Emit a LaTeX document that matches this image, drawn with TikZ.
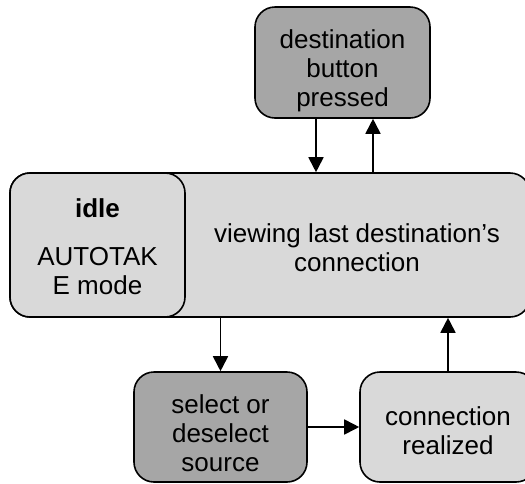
\documentclass[tikz,border=0pt]{standalone}
\usepackage{fontspec}
\setmainfont{Liberation Sans}
\usetikzlibrary{arrows.meta,shapes}
\definecolor{darkfill}{HTML}{A6A6A6}
\definecolor{lightfill}{HTML}{D9D9D9}
\tikzset{box/.style={draw,line width=1.6pt,rounded corners=20pt,align=center,
    font=\fontsize{26}{29}\selectfont,inner sep=0pt},
  txt/.style={align=center,font=\fontsize{26}{29}\selectfont,inner sep=0pt},
  arr/.style={line width=1.8pt,-{Triangle[length=15pt,width=15pt]}}}
\newcommand{\lift}[1]{\rule{0pt}{#1pt}}

\begin{document}
\begin{tikzpicture}[x=1pt,y=-1pt]
  \clip (0,0) rectangle (525,483);
  \node[box,fill=darkfill,minimum width=175pt,minimum height=111pt] (0) at (342.5,62.5) {\lift{36}destination\\button\\pressed};
  \node[box,fill=lightfill,minimum width=520pt,minimum height=144pt] (1) at (270,245) {};
  \node[box,fill=lightfill,minimum width=175pt,minimum height=144pt] (2) at (97.5,245) {\lift{23}\textbf{idle}\\[19pt]AUTOTAK\\E mode};
  \node[txt] (3) at (357,245) {\lift{25}viewing last destination’s\\connection};
  \node[box,fill=darkfill,minimum width=173pt,minimum height=110pt] (4) at (220.5,427) {\lift{31}select or\\deselect\\source};
  \node[box,fill=lightfill,minimum width=176pt,minimum height=110pt] (5) at (448,427) {\lift{27}connection\\realized};
  \draw[arr] ([xshift=-26.5pt]0.south) -- ([xshift=-26.5pt]0.south |- 1.north);
  \draw[arr] ([xshift=30.5pt]0.south |- 1.north) -- ([xshift=30.5pt]0.south);
  \draw[arr] (1.south -| 4.north) -- (4.north);
  \draw[arr] (4.east) -- (5.west);
  \draw[arr] (5.north) -- (5.north |- 1.south);
\end{tikzpicture}
\end{document}
